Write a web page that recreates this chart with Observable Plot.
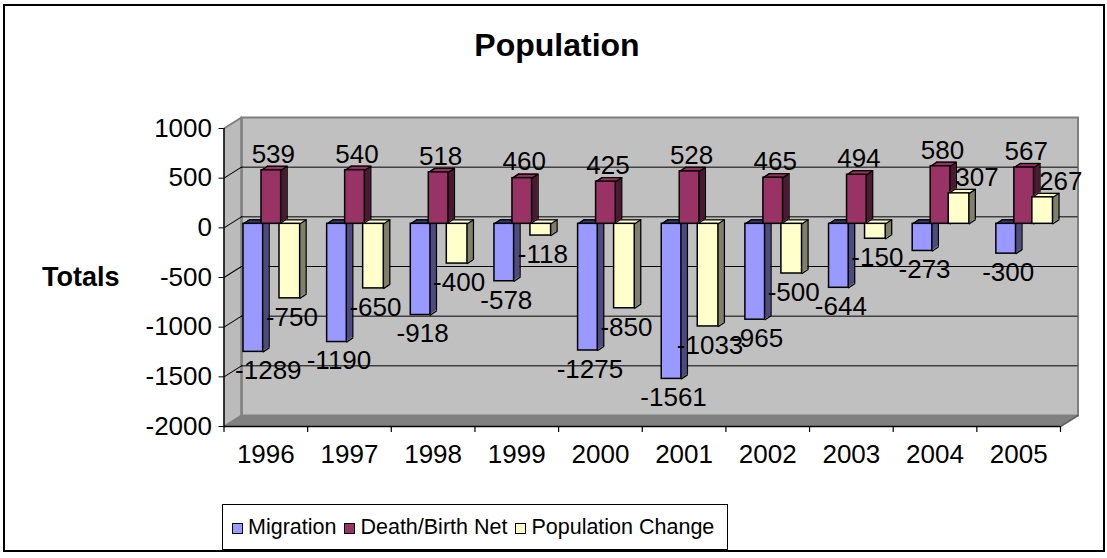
<!DOCTYPE html>
<html><head><meta charset="utf-8">
<script src="https://cdn.jsdelivr.net/npm/d3@7"></script>
<script src="https://cdn.jsdelivr.net/npm/@observablehq/plot@0.6"></script>
<style>
body{margin:0;background:#fff;font-family:"Liberation Sans",Arial,sans-serif;}
#wrap{position:relative;width:1107px;height:558px;overflow:hidden;background:#fff;}
#border{position:absolute;left:3px;top:4px;width:1102px;height:548px;border:2px solid #000;box-sizing:border-box;}
#title{position:absolute;left:3px;width:1108px;top:29px;line-height:32px;font-size:32px;font-weight:bold;text-align:center;}
#chart{position:absolute;left:0;top:0;}
#legend{position:absolute;left:222px;top:504px;width:506px;height:46px;border:1px solid #000;box-sizing:border-box;font-size:21.5px;line-height:24px;background:#fff;display:flex;align-items:center;padding-left:9px;gap:8px;white-space:nowrap;}
.item{display:flex;align-items:center;flex:none;height:24px;}
.sw{display:block;flex:none;align-self:center;width:11px;height:11px;min-height:11px;max-height:11px;box-sizing:border-box;border:1px solid #000;margin-right:5px;margin-top:2px;}
</style></head>
<body>
<div id="wrap">
  <div id="border"></div>
  <div id="chart"></div>
  <div id="title">Population</div>
  <div id="legend"></div>
</div>
<script>
// ---- data ----
const years = ["1996","1997","1998","1999","2000","2001","2002","2003","2004","2005"];
const migration = [-1289,-1190,-918,-578,-1275,-1561,-965,-644,-273,-300];
const deathBirth = [539,540,518,460,425,528,465,494,580,567];
const popChange = [-750,-650,-400,-118,-850,-1033,-500,-150,307,267];
const seriesNames = ["Migration","Death/Birth Net","Population Change"];
const yTicks = [1000,500,0,-500,-1000,-1500,-2000];
const gridValues = [500,0,-500,-1000,-1500];
const xBoundaries = [0,1,2,3,4,5,6,7,8,9,10];

const seriesValues = [migration, deathBirth, popChange];
const rows = years.flatMap((year,i)=>seriesValues.map((vals,s)=>({i, year, s, value: vals[i]})));

// ---- styles ----
const frontColors = ["#9999FF","#993366","#FFFFCC"];
const sideColors = ["#4C4C80","#4C1933","#80806A"];
const topColors = ["#3A3A6A","#993366","#FFFFCC"];
const bandInsets = [[19.5,44.5],[37.5,26.5],[55.5,7.5]];
const BAND = 83.65;
const WX = 17.5, WY = -11;   // wall depth
const BY = -4;               // bar layer offset
const DX = 6, DY = -4;       // bar depth
const wallLen = Math.hypot(WX, WY), wallRot = Math.atan2(WX, -WY)*180/Math.PI;
const barLen = Math.hypot(DX, DY), barRot = Math.atan2(DX, -DY)*180/Math.PI;

const marks = [];
// back wall
marks.push(Plot.frame({fill:"#c0c0c0", stroke:"#808080", strokeWidth:2, dx:WX, dy:WY}));
// left side wall
for (let k=0;k<=WX;k+=0.5) marks.push(Plot.ruleX([0],{stroke:"#bcbcbc", strokeWidth:1.2, dx:k, dy:WY*k/WX}));
// floor
for (let k=0;k<=WX;k+=0.5) marks.push(Plot.ruleY([-2000],{stroke:"#808080", strokeWidth:1.2, dx:k, dy:WY*k/WX}));
// back-wall left edge
marks.push(Plot.ruleX([0],{stroke:"#808080", strokeWidth:2.5, dx:WX, dy:WY}));
// gridlines on back wall
marks.push(Plot.ruleY(gridValues,{stroke:"#000", strokeWidth:1, dx:WX, dy:WY}));
// gridline diagonals on the side wall
marks.push(Plot.vector(gridValues,{x:()=>0, y:d=>d, length:wallLen, rotate:wallRot, anchor:"start", r:0, stroke:"#000", strokeWidth:1}));
marks.push(Plot.vector([1000,-2000],{x:()=>0, y:d=>d, length:wallLen, rotate:wallRot, anchor:"start", r:0, stroke:"#808080", strokeWidth:2}));
marks.push(Plot.vector([-2000],{x:()=>10, y:d=>d, length:wallLen, rotate:wallRot, anchor:"start", r:0, stroke:"#606060", strokeWidth:1.5}));

// bars
const x1 = r=>r.i, x2 = r=>r.i+1;
const topVal = r=>Math.max(0,r.value), botVal = r=>Math.min(0,r.value);
seriesValues.forEach((vals,s)=>{
  const [iL,iR] = bandInsets[s];
  const d = rows.filter(r=>r.s===s);
  for (let k=DX;k>=1;k--) marks.push(Plot.rect(d,{x1,x2,y1:()=>0,y2:"value",insetLeft:iL,insetRight:iR,fill:sideColors[s],dx:k,dy:BY+DY*k/DX}));
  for (let k=0;k<=DX;k+=0.5) marks.push(Plot.ruleY(d,{y:topVal,x1,x2,insetLeft:iL,insetRight:iR,stroke:topColors[s],strokeWidth:1.2,dx:k,dy:BY+DY*k/DX}));
  marks.push(Plot.ruleX(d,{x:x2,y1:()=>0,y2:"value",dx:-iR+DX,dy:BY+DY,stroke:"#000",strokeWidth:1.3}));
  marks.push(Plot.ruleY(d,{y:topVal,x1,x2,insetLeft:iL,insetRight:iR,dx:DX,dy:BY+DY,stroke:"#000",strokeWidth:1.3}));
  marks.push(Plot.vector(d,{x:x1,y:topVal,dx:iL,dy:BY,length:barLen,rotate:barRot,anchor:"start",r:0,stroke:"#000",strokeWidth:1.3}));
  marks.push(Plot.vector(d,{x:x2,y:topVal,dx:-iR,dy:BY,length:barLen,rotate:barRot,anchor:"start",r:0,stroke:"#000",strokeWidth:1.3}));
  marks.push(Plot.vector(d,{x:x2,y:botVal,dx:-iR,dy:BY,length:barLen,rotate:barRot,anchor:"start",r:0,stroke:"#000",strokeWidth:1.3}));
  marks.push(Plot.rect(d,{x1,x2,y1:()=>0,y2:"value",insetLeft:iL,insetRight:iR,fill:frontColors[s],stroke:"#000",strokeWidth:1.5,dy:BY}));
});

// front axes
marks.push(Plot.ruleX([0],{stroke:"#000", strokeWidth:1.5}));
marks.push(Plot.ruleY([-2000],{stroke:"#000", strokeWidth:1.5}));
marks.push(Plot.axisY({ticks:yTicks, tickSize:5, tickPadding:7, tickFormat:d=>String(d), label:null, fontSize:26}));
marks.push(Plot.tickX(xBoundaries,{x:d=>d, insetTop:298, insetBottom:-6, stroke:"#000", strokeWidth:1.2}));
marks.push(Plot.text(years,{x:(d,i)=>i+0.5, y:()=>-2000, dy:28, lineAnchor:"middle", fontSize:26}));
marks.push(Plot.text(["Totals"],{frameAnchor:"left", dx:-182, textAnchor:"start", fontWeight:"bold", fontSize:27}));

// data labels
const extraDx = r => (r.s===2 && r.value>0) ? 16 : (r.s===0 && r.i===0 ? 13 : 0);
const groups = d3.group(rows, r=>r.s, r=>r.value>0, extraDx);
for (const [s, bySign] of groups) {
  const [iL,iR] = bandInsets[s];
  const base = iL + (BAND-iL-iR)/2 + 2;
  for (const [pos, byExtra] of bySign) {
    for (const [ex, d] of byExtra) {
      marks.push(Plot.text(d,{x:x1, y:"value", text:r=>String(r.value), dx:base+ex, dy:pos?-20:15, lineAnchor:"middle", fontSize:26, fill:"#000"}));
    }
  }
}

const chart = Plot.plot({
  width:1107, height:480,
  marginLeft:223.5, marginRight:47, marginTop:128, marginBottom:54,
  x:{type:"linear", domain:[0,10], axis:null},
  y:{type:"linear", domain:[-2000,1000], axis:null},
  style:{fontFamily:'"Liberation Sans", Arial, sans-serif', fontSize:"26px", background:"transparent", overflow:"visible", color:"#000"},
  marks
});
document.getElementById("chart").appendChild(chart);

// legend
const legend = document.getElementById("legend");
seriesNames.forEach((name,s)=>{
  const it = document.createElement("div");
  it.className = "item";
  const sw = document.createElement("div");
  sw.className = "sw";
  sw.style.background = frontColors[s];
  const tx = document.createElement("span");
  tx.textContent = name;
  it.appendChild(sw); it.appendChild(tx);
  legend.appendChild(it);
});
</script>
</body></html>
